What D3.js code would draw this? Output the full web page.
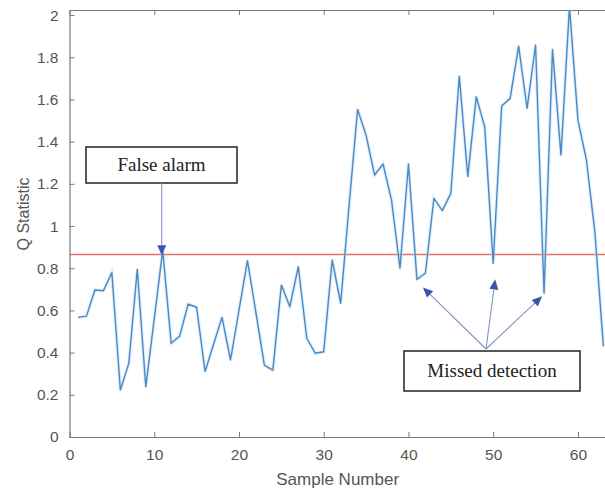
<!DOCTYPE html>
<html>
<head>
<meta charset="utf-8">
<script src="https://cdn.jsdelivr.net/npm/d3@7/dist/d3.min.js"></script>
<style>
  html, body { margin: 0; padding: 0; background: #fff; }
  svg { display: block; }
</style>
</head>
<body>
<svg id="chart" width="605" height="494"></svg>
<script>
// Q statistic per sample
const samples = d3.range(1, 64);
const qValues = [
  0.567, 0.573, 0.697, 0.693, 0.779, 0.223, 0.349, 0.795, 0.238, 0.56,
  0.885, 0.444, 0.478, 0.63, 0.615, 0.31, 0.44, 0.567, 0.365, 0.60,
  0.836, 0.59, 0.34, 0.317, 0.72, 0.618, 0.807, 0.468, 0.397, 0.404,
  0.839, 0.634, 1.10, 1.553, 1.43, 1.242, 1.294, 1.123, 0.80, 1.294,
  0.747, 0.776, 1.131, 1.073, 1.155, 1.711, 1.234, 1.613, 1.47, 0.823,
  1.569, 1.605, 1.853, 1.558, 1.858, 0.681, 1.837, 1.336, 2.04, 1.502,
  1.313, 0.97, 0.43
];
const threshold = 0.865;

const xTicks = [0, 10, 20, 30, 40, 50, 60];
const yTicks = [0, 0.2, 0.4, 0.6, 0.8, 1, 1.2, 1.4, 1.6, 1.8, 2];
const xDomain = [0, 64];
const yDomain = [0, 2.024];

// annotations: label, pointed sample numbers
const falseAlarmSamples = [11];
const missedSamples = [41, 50, 56];

const svg = d3.select("#chart");
const plotLeft = 69.5, plotTop = 10, plotBottom = 437;
const x = d3.scaleLinear().domain(xDomain).range([plotLeft, plotLeft + 64 * 8.474]);
const y = d3.scaleLinear().domain(yDomain).range([plotBottom, plotTop]);

const axisColor = "#7a7a7a";
const textColor = "#555";
const tickFont = "Liberation Sans, Arial, sans-serif";

svg.append("defs").append("clipPath").attr("id", "plotClip")
  .append("rect").attr("x", plotLeft).attr("y", plotTop)
  .attr("width", x(64) - plotLeft).attr("height", plotBottom - plotTop);

// axes (ticks inside, box on)
const gx = svg.append("g").attr("transform", `translate(0,${plotBottom})`)
  .call(d3.axisBottom(x).tickValues(xTicks).tickSizeInner(-5).tickSizeOuter(0).tickPadding(12).tickFormat(d3.format("d")));
const gxTop = svg.append("g").attr("transform", `translate(0,${plotTop})`)
  .call(d3.axisTop(x).tickValues(xTicks).tickSizeInner(-5).tickSizeOuter(0).tickFormat(""));
const gy = svg.append("g").attr("transform", `translate(${plotLeft},0)`)
  .call(d3.axisLeft(y).tickValues(yTicks).tickSizeInner(-5).tickSizeOuter(0).tickPadding(11).tickFormat(d => d3.format("")(d)));

[gx, gxTop, gy].forEach(g => {
  g.select(".domain").attr("stroke", axisColor).attr("stroke-width", 1.2);
  g.selectAll(".tick line").attr("stroke", axisColor);
  g.selectAll(".tick text").attr("fill", textColor)
    .style("font-family", tickFont).style("font-size", "15.5px");
});

// axis titles
svg.append("text")
  .attr("x", (x(0) + x(64)) / 2 - 3).attr("y", 485)
  .attr("text-anchor", "middle")
  .attr("fill", textColor)
  .style("font-family", tickFont).style("font-size", "17px")
  .text("Sample Number");

svg.append("text")
  .attr("transform", `translate(29,214) rotate(-90)`)
  .attr("text-anchor", "middle")
  .attr("fill", textColor)
  .style("font-family", tickFont).style("font-size", "16px")
  .text("Q Statistic");

const plot = svg.append("g").attr("clip-path", "url(#plotClip)");

// control limit
plot.append("line")
  .attr("x1", x(0)).attr("x2", x(64))
  .attr("y1", y(threshold)).attr("y2", y(threshold))
  .attr("stroke", "#e36f6b").attr("stroke-width", 1.6);

// Q statistic series
const line = d3.line().x((d, i) => x(samples[i])).y(d => y(d));
plot.append("path")
  .datum(qValues)
  .attr("fill", "none")
  .attr("stroke", "#b9dcf5")
  .attr("stroke-width", 3.5)
  .attr("stroke-opacity", 0.45)
  .attr("d", line);
plot.append("path")
  .datum(qValues)
  .attr("fill", "none")
  .attr("stroke", "#4a89c6")
  .attr("stroke-width", 1.4)
  .attr("stroke-linejoin", "round")
  .attr("d", line);

// annotation helpers
const arrowColor = "#8093c4";
const headColor = "#3b55ad";
function arrow(x1, y1, x2, y2) {
  const ang = Math.atan2(y2 - y1, x2 - x1);
  const len = 10, half = 4.5;
  const bx = x2 - len * Math.cos(ang), by = y2 - len * Math.sin(ang);
  svg.append("line")
    .attr("x1", x1).attr("y1", y1).attr("x2", bx).attr("y2", by)
    .attr("stroke", arrowColor).attr("stroke-width", 1.1);
  const p = [
    [x2, y2],
    [bx + half * Math.sin(ang), by - half * Math.cos(ang)],
    [bx - half * Math.sin(ang), by + half * Math.cos(ang)]
  ];
  svg.append("polygon").attr("points", p.map(q => q.join(",")).join(" "))
    .attr("fill", headColor);
}
function box(x0, y0, w, h, label) {
  svg.append("rect").attr("x", x0).attr("y", y0).attr("width", w).attr("height", h)
    .attr("fill", "#fff").attr("stroke", "#222").attr("stroke-width", 1.5);
  svg.append("text")
    .attr("x", x0 + w / 2).attr("y", y0 + h / 2 + 6)
    .attr("text-anchor", "middle")
    .attr("fill", "#222")
    .style("font-family", "Liberation Serif, Times New Roman, serif")
    .style("font-size", "19px")
    .text(label);
}

// false alarm
box(86, 147, 151, 36, "False alarm");
falseAlarmSamples.forEach(s => {
  arrow(x(s) - 1, 183, x(s) - 1, y(qValues[s - 1]) + 5);
});

// missed detections
const hub = [486, 349];
const tips = {
  41: [x(41) + 6, y(qValues[40]) + 8],
  50: [x(50) + 2, y(qValues[49]) + 16],
  56: [x(56) - 2, y(qValues[55]) + 3]
};
missedSamples.forEach(s => {
  arrow(hub[0], hub[1], tips[s][0], tips[s][1]);
});
box(404, 351, 176, 40, "Missed detection");
</script>
</body>
</html>
